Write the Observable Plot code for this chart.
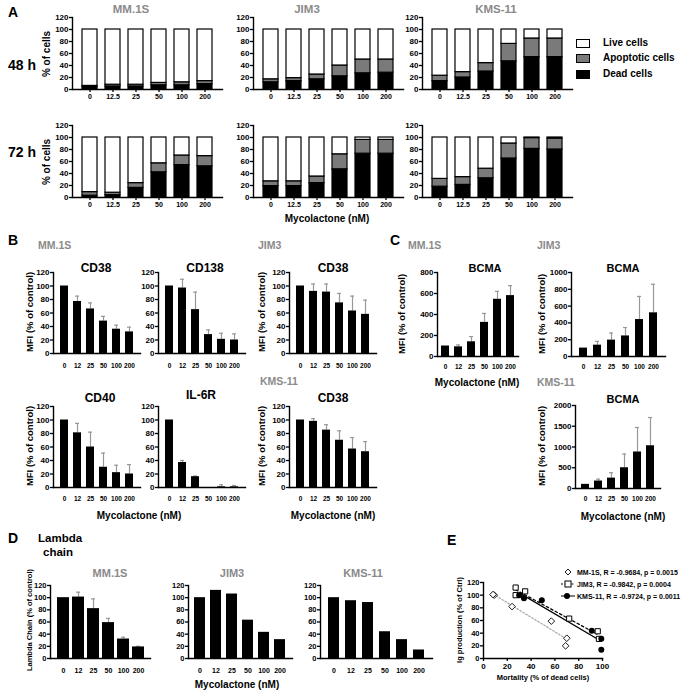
<!DOCTYPE html>
<html>
<head>
<meta charset="utf-8">
<script src="https://cdn.jsdelivr.net/npm/d3@7"></script>
<script src="https://cdn.jsdelivr.net/npm/@observablehq/plot@0.6"></script>
<style>
  body { margin: 0; background: #fff; font-family: "Liberation Sans", Arial, sans-serif; }
  #fig { position: relative; width: 686px; height: 692px; overflow: hidden; }
  .t { position: absolute; font-weight: bold; white-space: nowrap; line-height: 1; }
  .lg { position: absolute; font-weight: bold; white-space: nowrap; line-height: 1; display: flex; align-items: center; }
</style>
</head>
<body>
<div id="fig"></div>
<script>
// ---- data ----
const dosesA = ["0", "12.5", "25", "50", "100", "200"];
const doses = ["0", "12", "25", "50", "100", "200"];
const cellTypes = ["Dead cells", "Apoptotic cells", "Live cells"];
const cellColors = ["#000", "#7a7a7a", "#fff"];

// A: % of cells
const mm48Dead = [4, 5, 5, 7, 7, 9], mm48Apop = [2, 3, 3, 4, 5, 5], mm48Live = [94, 92, 92, 89, 88, 86];
const jim48Dead = [12, 14, 17, 22, 27, 28], jim48Apop = [5, 5, 8, 18, 23, 22], jim48Live = [83, 81, 75, 60, 50, 50];
const kms48Dead = [14, 20, 30, 47, 54, 54], kms48Apop = [9, 9, 14, 29, 31, 31], kms48Live = [77, 71, 56, 24, 15, 15];
const mm72Dead = [3, 4, 16, 42, 54, 52], mm72Apop = [6, 4, 8, 15, 16, 17], mm72Live = [91, 92, 76, 43, 30, 31];
const jim72Dead = [19, 19, 24, 47, 73, 73], jim72Apop = [8, 8, 11, 25, 23, 23], jim72Live = [73, 73, 65, 28, 4, 4];
const kms72Dead = [18, 21, 32, 65, 81, 80], kms72Apop = [13, 13, 16, 25, 18, 18], kms72Live = [69, 66, 52, 10, 1, 2];

// B: MFI (% of control), mean and upper error
const mmCD38 = [100, 77, 66, 48, 36, 32], mmCD38Err = [0, 8, 9, 7, 6, 7];
const mmCD138 = [100, 97, 65, 28, 21, 20], mmCD138Err = [0, 13, 26, 7, 9, 9];
const jimCD38 = [100, 92, 91, 75, 63, 58], jimCD38Err = [0, 11, 12, 14, 22, 21];
const mmCD40 = [100, 81, 60, 30, 22, 20], mmCD40Err = [0, 14, 22, 21, 11, 14];
const mmIL6R = [100, 37, 16, 0, 1, 1], mmIL6RErr = [0, 3, 1, 0, 3, 2];
const kmsCD38 = [100, 98, 85, 70, 57, 53], kmsCD38Err = [0, 4, 8, 14, 17, 15];

// C: BCMA
const mmBCMA = [100, 92, 140, 325, 545, 580], mmBCMAErr = [0, 18, 50, 85, 75, 95];
const jimBCMA = [100, 135, 195, 245, 440, 520], jimBCMAErr = [0, 45, 85, 100, 275, 340];
const kmsBCMA = [100, 180, 250, 500, 880, 1030], kmsBCMAErr = [0, 45, 130, 330, 590, 680];

// D: Lambda chain
const mmLambda = [100, 101, 82, 59, 32, 19], mmLambdaErr = [0, 8, 16, 7, 3, 1];
const jimLambda = [100, 112, 106, 63, 43, 31];
const kmsLambda = [100, 95, 92, 44, 31, 14];

// E: mortality vs Ig production
const mmMort = [9, 8, 24, 57, 70, 69], mmIg = [100, 101, 82, 59, 32, 20];
const jimMort = [27, 27, 35, 72, 96, 97], jimIg = [100, 112, 106, 63, 43, 31];
const kmsMort = [30, 34, 49, 91, 99, 99], kmsIg = [100, 95, 92, 44, 31, 14];

// tick labels
const ticks120 = [0, 20, 40, 60, 80, 100, 120];
const ticks800 = [0, 200, 400, 600, 800];
const ticks1000 = [0, 200, 400, 600, 800, 1000];
const ticks2000 = [0, 500, 1000, 1500, 2000];
const ticks100 = [0, 20, 40, 60, 80, 100];

// ---- layout helpers ----
const fig = document.getElementById("fig");
const ML = 30, MR = 6, MT = 6, MB = 22;
const GREY = "#8a8a8a", ERR = "#999";
const FONT = "'Liberation Sans', Arial, sans-serif";
const STYLE = {fontFamily: FONT, fontWeight: "bold", color: "#000", background: "transparent", overflow: "visible"};
const plain = (d) => String(d);

function text(str, x, y, {size = 10, anchor = "middle", color = "#000", rotate = false} = {}) {
  const d = document.createElement("div");
  d.className = "t";
  d.textContent = str;
  d.style.fontSize = size + "px";
  d.style.color = color;
  d.style.left = x + "px";
  d.style.top = y + "px";
  d.style.transform = `translate(${anchor === "start" ? "0" : "-50%"},-50%)` + (rotate ? " rotate(-90deg)" : "");
  fig.appendChild(d);
}

function place(svg, ax, yTop) {
  svg.style.position = "absolute";
  svg.style.left = (ax - ML) + "px";
  svg.style.top = (yTop - MT) + "px";
  fig.appendChild(svg);
}

// prism-like axes: left and bottom lines, bold tick labels
function axes(yTicks, {xTicks, xTickSize = 0, xPad = 10, xSize = 6.5, ySize = 8} = {}) {
  return [
    Plot.frame({anchor: "left", strokeWidth: 1.4}),
    Plot.frame({anchor: "bottom", strokeWidth: 1.4}),
    Plot.axisY(yTicks, {tickSize: 3, tickPadding: 1, fontSize: ySize, fontWeight: "bold", strokeWidth: 1.3, tickFormat: plain, label: null}),
    xTicks
      ? Plot.axisX(xTicks, {tickSize: xTickSize, tickPadding: xPad, fontSize: xSize, fontWeight: "bold", strokeWidth: 1.3, tickFormat: plain, label: null})
      : Plot.axisX({tickSize: xTickSize, tickPadding: xPad, fontSize: xSize, fontWeight: "bold", strokeWidth: 1.3, label: null})
  ];
}

function stackChart(dead, apop, live, {w = 150, h = 72}) {
  const rows = [];
  dosesA.forEach((dose, i) => {
    rows.push({dose, type: "Dead cells", value: dead[i]});
    rows.push({dose, type: "Apoptotic cells", value: apop[i]});
    rows.push({dose, type: "Live cells", value: live[i]});
  });
  return Plot.plot({
    width: ML + w + MR, height: MT + h + MB,
    marginLeft: ML, marginRight: MR, marginTop: MT, marginBottom: MB,
    style: STYLE,
    x: {domain: dosesA, paddingInner: 0.36, paddingOuter: 0.4},
    y: {domain: [0, 120]},
    color: {domain: cellTypes, range: cellColors},
    marks: [
      Plot.barY(rows, {x: "dose", y: "value", fill: "type", stroke: "#000", strokeWidth: 1.2}),
      ...axes(ticks120, {xTickSize: 3, xPad: 2, xSize: 7, ySize: 8})
    ]
  });
}

function barChart(values, errs, {xDomain = doses, yDomain = [0, 120], yTicks = ticks120, w, h, pi = 0.4, po = 0.45, cap = 2, xPad = 10, xSize = 6.5, ySize = 8}) {
  const rows = xDomain.map((dose, i) => ({dose, value: values[i], err: errs ? errs[i] : 0}));
  const withErr = rows.filter((d) => d.err > 0);
  return Plot.plot({
    width: ML + w + MR, height: MT + h + MB,
    marginLeft: ML, marginRight: MR, marginTop: MT, marginBottom: MB,
    style: STYLE,
    x: {domain: xDomain, paddingInner: pi, paddingOuter: po},
    y: {domain: yDomain},
    marks: [
      Plot.ruleX(withErr, {x: "dose", y1: "value", y2: (d) => d.value + d.err, stroke: ERR, strokeWidth: 1.2}),
      Plot.tickY(withErr, {x: "dose", y: (d) => d.value + d.err, stroke: ERR, strokeWidth: 1.2, insetLeft: cap, insetRight: cap}),
      Plot.barY(rows, {x: "dose", y: "value", fill: "#000"}),
      ...axes(yTicks, {xPad, xSize, ySize})
    ]
  });
}

// ---- Panel A ----
text("A", 8, 12, {size: 14, anchor: "start"});
text("MM.1S", 131, 10, {size: 11.5, color: GREY});
text("JIM3", 307, 10, {size: 11.5, color: GREY});
text("KMS-11", 496, 10, {size: 11.5, color: GREY});
text("48 h", 8, 65, {size: 14, anchor: "start"});
text("72 h", 8, 152, {size: 14, anchor: "start"});
text("% of cells", 47, 54, {size: 10, rotate: true});
text("% of cells", 47, 162, {size: 10, rotate: true});

place(stackChart(mm48Dead, mm48Apop, mm48Live, {}), 72, 17);
place(stackChart(jim48Dead, jim48Apop, jim48Live, {}), 253, 17);
place(stackChart(kms48Dead, kms48Apop, kms48Live, {}), 422, 17);
place(stackChart(mm72Dead, mm72Apop, mm72Live, {}), 72, 125);
place(stackChart(jim72Dead, jim72Apop, jim72Live, {}), 253, 125);
place(stackChart(kms72Dead, kms72Apop, kms72Live, {}), 422, 125);
text("Mycolactone (nM)", 327, 219, {size: 10});

// legend A
cellTypes.slice().reverse().forEach((type, i) => {
  const y = [43, 58, 74][i];
  const box = document.createElement("div");
  box.style.cssText = `position:absolute;left:576px;top:${y - 4}px;width:12px;height:7px;border:1.5px solid #000;background:${cellColors[cellTypes.indexOf(type)]}`;
  fig.appendChild(box);
  text(type, 603, y, {size: 10, anchor: "start"});
});

// ---- Panel B ----
text("B", 8, 240, {size: 14, anchor: "start"});
text("MM.1S", 38, 245, {size: 10.5, color: GREY, anchor: "start"});
text("JIM3", 258, 245, {size: 10.5, color: GREY, anchor: "start"});
text("KMS-11", 260, 381, {size: 10.5, color: GREY, anchor: "start"});
text("CD38", 96, 268, {size: 12});
text("CD138", 205, 268, {size: 12});
text("CD38", 333, 268, {size: 12});
text("CD40", 100, 398, {size: 12});
text("IL-6R", 201, 395, {size: 12});
text("CD38", 333, 398, {size: 12});
text("MFI (% of control)", 30, 312, {size: 9.5, rotate: true});
text("MFI (% of control)", 30, 446, {size: 9.5, rotate: true});
text("MFI (% of control)", 262, 312, {size: 9.5, rotate: true});
text("MFI (% of control)", 262, 446, {size: 9.5, rotate: true});

place(barChart(mmCD38, mmCD38Err, {w: 87, h: 81}), 53, 272);
place(barChart(mmCD138, mmCD138Err, {w: 87, h: 81}), 158, 272);
place(barChart(jimCD38, jimCD38Err, {w: 87, h: 81}), 289, 272);
place(barChart(mmCD40, mmCD40Err, {w: 87, h: 81, xPad: 9}), 53, 406);
place(barChart(mmIL6R, mmIL6RErr, {w: 87, h: 81, xPad: 9}), 158, 406);
place(barChart(kmsCD38, kmsCD38Err, {w: 87, h: 81, xPad: 9}), 289, 406);
text("Mycolactone (nM)", 139, 516, {size: 10});
text("Mycolactone (nM)", 333, 516, {size: 10});

// ---- Panel C ----
text("C", 390, 240, {size: 14, anchor: "start"});
text("MM.1S", 408, 245, {size: 10.5, color: GREY, anchor: "start"});
text("JIM3", 537, 245, {size: 10.5, color: GREY, anchor: "start"});
text("KMS-11", 537, 382, {size: 10.5, color: GREY, anchor: "start"});
text("BCMA", 485, 268, {size: 11});
text("BCMA", 623, 268, {size: 11});
text("BCMA", 623, 399, {size: 11});
text("MFI (% of control)", 402, 314, {size: 9.5, rotate: true});
text("MFI (% of control)", 542, 314, {size: 9.5, rotate: true});
text("MFI (% of control)", 542, 446, {size: 9.5, rotate: true});

place(barChart(mmBCMA, mmBCMAErr, {yDomain: [0, 800], yTicks: ticks800, w: 81, h: 84, pi: 0.42, po: 0.3, xPad: 7.5}), 437, 272);
place(barChart(jimBCMA, jimBCMAErr, {yDomain: [0, 1000], yTicks: ticks1000, w: 94, h: 84, pi: 0.45, po: 0.4, xPad: 7.5}), 571, 272);
place(barChart(kmsBCMA, kmsBCMAErr, {yDomain: [0, 2000], yTicks: ticks2000, w: 85, h: 83, pi: 0.42, po: 0.35, xPad: 7.5}), 575, 405);
text("Mycolactone (nM)", 477, 383, {size: 10});
text("Mycolactone (nM)", 623, 517, {size: 10});

// ---- Panel D ----
text("D", 8, 538, {size: 14, anchor: "start"});
text("Lambda", 38, 539, {size: 11.5, anchor: "start"});
text("chain", 43, 553, {size: 11.5, anchor: "start"});
text("MM.1S", 110, 573, {size: 11, color: GREY});
text("JIM3", 232, 573, {size: 11, color: GREY});
text("KMS-11", 363, 573, {size: 11, color: GREY});
text("Lambda Chain (% of control)", 30, 620, {size: 7.5, rotate: true});

place(barChart(mmLambda, mmLambdaErr, {w: 100, h: 73, pi: 0.22, po: 0.44, cap: 4, xPad: 9.5, xSize: 7, ySize: 7.5}), 50, 585);
place(barChart(jimLambda, null, {w: 104, h: 73, pi: 0.31, po: 0.3, xPad: 9.5, xSize: 7, ySize: 7.5}), 188, 585);
place(barChart(kmsLambda, null, {w: 112, h: 73, pi: 0.33, po: 0.28, xPad: 9.5, xSize: 7, ySize: 7.5}), 320, 585);
text("Mycolactone (nM)", 237, 685, {size: 10});

// ---- Panel E ----
text("E", 447, 540, {size: 14, anchor: "start"});
const mmRows = mmMort.map((m, i) => ({m, ig: mmIg[i]}));
const jimRows = jimMort.map((m, i) => ({m, ig: jimIg[i]}));
const kmsRows = kmsMort.map((m, i) => ({m, ig: kmsIg[i]}));
place(Plot.plot({
  width: ML + 119 + MR, height: MT + 76 + MB,
  marginLeft: ML, marginRight: MR, marginTop: MT, marginBottom: MB,
  style: STYLE,
  x: {domain: [0, 100]},
  y: {domain: [0, 120]},
  marks: [
    Plot.linearRegressionY(mmRows, {x: "m", y: "ig", stroke: "#aaa", strokeWidth: 1.3, strokeDasharray: "1.5,2", ci: 0}),
    Plot.linearRegressionY(jimRows, {x: "m", y: "ig", stroke: "#000", strokeWidth: 1.3, strokeDasharray: "2.5,2.5", ci: 0}),
    Plot.linearRegressionY(kmsRows, {x: "m", y: "ig", stroke: "#000", strokeWidth: 1.3, ci: 0}),
    Plot.dot(mmRows, {x: "m", y: "ig", symbol: "diamond2", r: 3, stroke: "#000", fill: "#fff", strokeWidth: 0.9}),
    Plot.dot(jimRows, {x: "m", y: "ig", symbol: "square2", r: 3.3, stroke: "#000", fill: "#fff", strokeWidth: 1}),
    Plot.dot(kmsRows, {x: "m", y: "ig", symbol: "circle", r: 3, fill: "#000"}),
    ...axes(ticks120, {xTicks: ticks100, xTickSize: 3, xPad: 2, xSize: 8, ySize: 7.5})
  ]
}), 483, 582);
text("Ig production (% of Ctrl)", 460, 620, {size: 7.5, rotate: true});
text("Mortality (% of dead cells)", 543, 678, {size: 7.5});

const legE = [
  {label: "MM-1S, R = -0.9684, p = 0.0015", sym: '<path d="M7,1 L10,4 L7,7 L4,4 Z" fill="#fff" stroke="#000" stroke-width="0.9"/>'},
  {label: "JIM3, R = -0.9842, p = 0.0004", sym: '<line x1="0" y1="4" x2="14" y2="4" stroke="#000" stroke-dasharray="2,1.5"/><rect x="4" y="1" width="6" height="6" fill="#fff" stroke="#000"/>'},
  {label: "KMS-11, R = -0.9724, p = 0.0011", sym: '<line x1="0" y1="4" x2="14" y2="4" stroke="#000"/><circle cx="6" cy="4" r="3" fill="#000"/>'}
];
legE.forEach((d, i) => {
  const y = [572, 584, 596][i];
  const s = document.createElement("div");
  s.className = "lg";
  s.style.left = "561px";
  s.style.top = (y - 4) + "px";
  s.innerHTML = `<svg width="14" height="8">${d.sym}</svg>`;
  fig.appendChild(s);
  text(d.label, 577, y, {size: 7, anchor: "start"});
});
</script>
</body>
</html>
